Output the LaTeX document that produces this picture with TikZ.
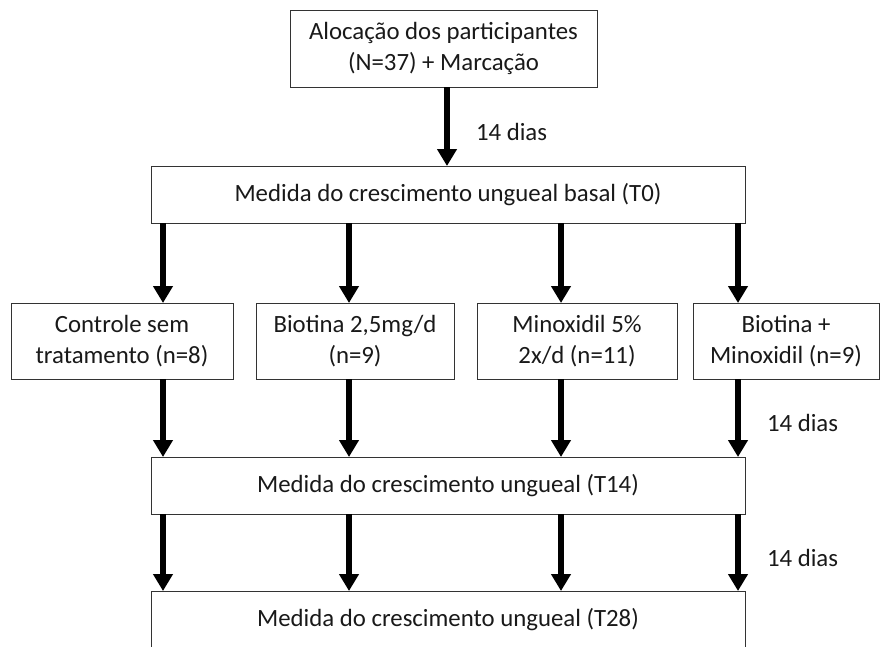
\documentclass[tikz,border=0pt]{standalone}
\usepackage{fontspec}
\setmainfont{Carlito}
\usetikzlibrary{arrows.meta}
\tikzset{>={Triangle[width=19pt,length=17pt]},
         x=1pt, y=-1pt,
         box/.style={draw=black!80, line width=0.9pt, align=center, inner sep=0pt, outer sep=0pt, text=black!90, font=\fontsize{24.8}{31.5}\selectfont},
         wide/.style={box, minimum width=594pt, minimum height=57pt},
         group/.style={box, minimum height=76pt},
         flow/.style={draw, ->, line width=6pt},
         days/.style={anchor=west, inner sep=0pt, xshift=26pt, pos=0.57, text=black!90, font=\fontsize{24.8}{31.5}\selectfont},
         }

\begin{document}
\begin{tikzpicture}
    \useasboundingbox (0,0) rectangle (880,646);
    \node[box, minimum width=307pt, minimum height=77pt] (alloc) at (443.5,48.5) {Alocação dos participantes\\(N=37) + Marcação};
    \node[wide] (t0) at (448,194.5) {Medida do crescimento ungueal basal (T0)};
    \node[group, minimum width=222pt] (g1) at (122,341) {Controle sem\\tratamento (n=8)};
    \node[group, minimum width=198pt] (g2) at (355,341) {Biotina 2,5mg/d\\(n=9)};
    \node[group, minimum width=200pt] (g3) at (577,341) {Minoxidil 5\%\\2x/d (n=11)};
    \node[group, minimum width=186pt] (g4) at (786,341) {Biotina +\\Minoxidil (n=9)};
    \node[wide] (t14) at (448,485.5) {Medida do crescimento ungueal (T14)};
    \node[wide] (t28) at (448,619.5) {Medida do crescimento ungueal (T28)};

    \path (alloc.south -| 447,0) edge[flow] node[days]{14 dias} (t0.north -| 447,0);
    \path (t0.south -| 163,0) edge[flow] (g1.north -| 163,0)
          (t0.south -| 349,0) edge[flow] (g2.north -| 349,0)
          (t0.south -| 561,0) edge[flow] (g3.north -| 561,0)
          (t0.south -| 738,0) edge[flow] (g4.north -| 738,0);
    \path (g1.south -| 163,0) edge[flow] (t14.north -| 163,0)
          (g2.south -| 349,0) edge[flow] (t14.north -| 349,0)
          (g3.south -| 561,0) edge[flow] (t14.north -| 561,0)
          (g4.south -| 738,0) edge[flow] node[days]{14 dias} (t14.north -| 738,0);
    \path (t14.south -| 163,0) edge[flow] (t28.north -| 163,0)
          (t14.south -| 349,0) edge[flow] (t28.north -| 349,0)
          (t14.south -| 561,0) edge[flow] (t28.north -| 561,0)
          (t14.south -| 738,0) edge[flow] node[days]{14 dias} (t28.north -| 738,0);
\end{tikzpicture}
\end{document}
